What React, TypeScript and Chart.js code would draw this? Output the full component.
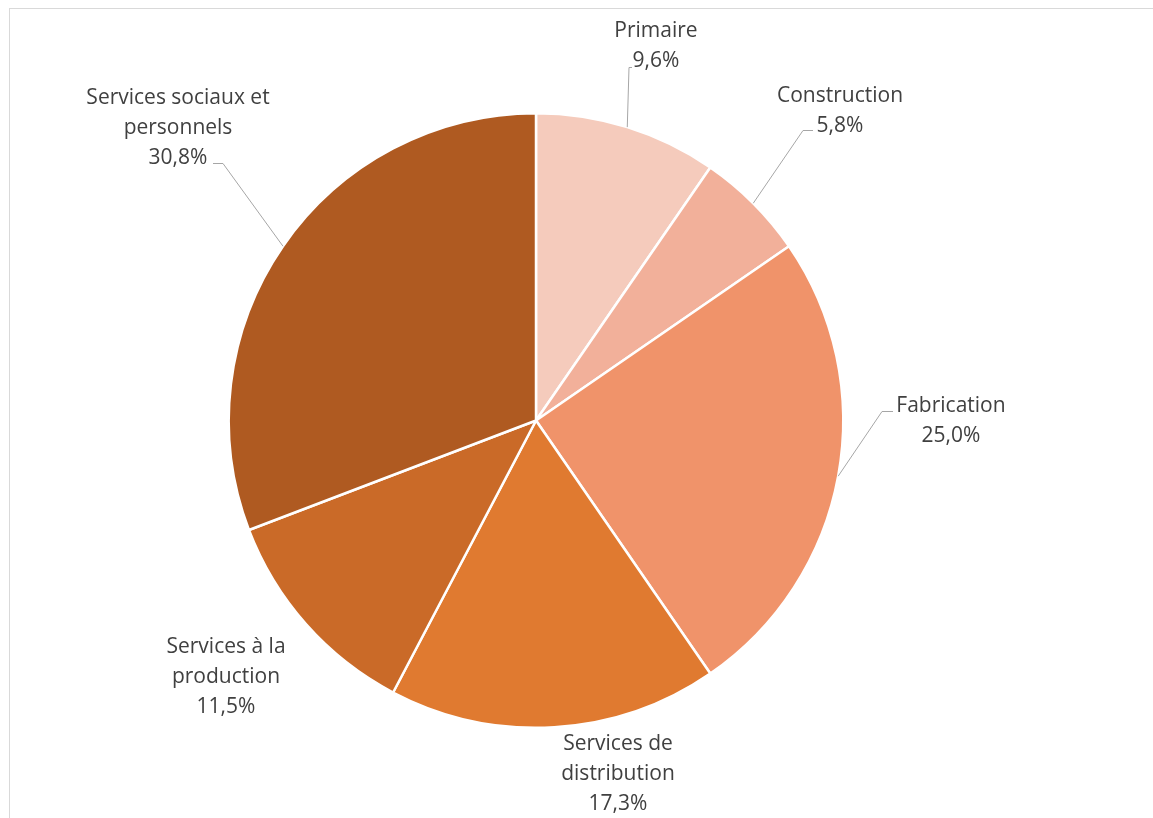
import React, { useEffect, useRef } from "react";
import { Chart, registerables } from "chart.js";

Chart.register(...registerables);

const categories = [
  "Primaire",
  "Construction",
  "Fabrication",
  "Services de distribution",
  "Services à la production",
  "Services sociaux et personnels",
];
const values = [9.6, 5.8, 25.0, 17.3, 11.5, 30.8];
const labelLines = [
  ["Primaire"],
  ["Construction"],
  ["Fabrication"],
  ["Services de", "distribution"],
  ["Services à la", "production"],
  ["Services sociaux et", "personnels"],
];
const colors = ["#F5CBBC", "#F2B09A", "#F0936A", "#E07A30", "#CA6A28", "#AF5A21"];

// label layout: text block centre x, first baseline y (offset from pie centre),
// leader elbow offset from centre and stub direction (0 = no leader)
const labelLayout = [
  { tx: 120, ty: -384, ex: 93, ey: -353, stub: 3 },
  { tx: 304, ty: -319, ex: 267, ey: -290, stub: 10 },
  { tx: 415, ty: -9, ex: 346, ey: -9, stub: 11 },
  { tx: 82, ty: 329, ex: 0, ey: 0, stub: 0 },
  { tx: -310, ty: 232, ex: 0, ey: 0, stub: 0 },
  { tx: -358, ty: -317, ex: -313, ey: -257, stub: -10 },
];

const fmt = (v: number) => v.toFixed(1).replace(".", ",") + "%";

const labelPlugin = {
  id: "outerLabels",
  afterDatasetsDraw(chart: any) {
    const ctx = chart.ctx;
    const meta = chart.getDatasetMeta(0);
    ctx.save();
    meta.data.forEach((arc: any, i: number) => {
      const { x, y, startAngle, endAngle, outerRadius } = arc.getProps(
        ["x", "y", "startAngle", "endAngle", "outerRadius"],
        true
      );
      const mid = (startAngle + endAngle) / 2;
      const lay = labelLayout[i];
      if (lay.stub !== 0) {
        const px = x + Math.cos(mid) * outerRadius;
        const py = y + Math.sin(mid) * outerRadius;
        ctx.beginPath();
        ctx.strokeStyle = "#A6A6A6";
        ctx.lineWidth = 1;
        ctx.moveTo(px, py);
        ctx.lineTo(x + lay.ex, y + lay.ey);
        ctx.lineTo(x + lay.ex + lay.stub, y + lay.ey);
        ctx.stroke();
      }
      const lines = [...labelLines[i], fmt(values[i])];
      ctx.fillStyle = "#404040";
      ctx.font = "21px 'Open Sans', Lato, sans-serif";
      ctx.textAlign = "center";
      ctx.textBaseline = "alphabetic";
      lines.forEach((t, k) => {
        ctx.fillText(t, x + lay.tx, y + lay.ty + k * 30);
      });
    });
    ctx.restore();
  },
};

export default function App() {
  const ref = useRef<HTMLCanvasElement | null>(null);
  useEffect(() => {
    if (!ref.current) return;
    const chart = new Chart(ref.current, {
      type: "pie",
      data: {
        labels: categories,
        datasets: [
          {
            data: values,
            backgroundColor: colors,
            borderColor: "#FFFFFF",
            borderWidth: 2.5,
          },
        ],
      },
      options: {
        responsive: false,
        animation: false,
        layout: { padding: { top: 112, bottom: 89, left: 200, right: 281 } },
        plugins: {
          legend: { display: false },
          tooltip: { enabled: false },
        },
      },
      plugins: [labelPlugin],
    });
    return () => chart.destroy();
  }, []);
  return (
    <>
      <div
        style={{
          position: "fixed",
          left: 9,
          top: 8,
          width: 1200,
          height: 900,
          border: "1px solid #D9D9D9",
          boxSizing: "border-box",
        }}
      />
      <canvas
        ref={ref}
        width={1153}
        height={818}
        style={{ position: "fixed", left: 0, top: 0, width: 1153, height: 818 }}
      />
    </>
  );
}
